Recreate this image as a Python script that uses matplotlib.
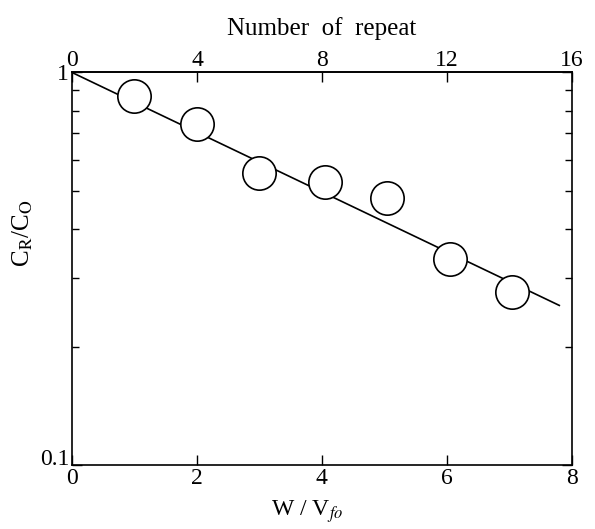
import matplotlib
matplotlib.use('Agg')
import matplotlib.pyplot as plt
from matplotlib.ticker import FixedLocator, NullFormatter
from matplotlib.transforms import ScaledTranslation

# W/Vfo of each measured point and the retained fraction CR/C0
w_vfo = [1.0, 2.0, 3.0, 4.05, 5.05, 6.05, 7.05]
cr_c0 = [0.87, 0.74, 0.555, 0.525, 0.48, 0.335, 0.276]

# fitted straight line on the semi-log plot
line_x = [0.0, 7.8]
line_y = [1.0, 0.255]

x_ticks = [0, 2, 4, 6, 8]
top_ticks = [0, 4, 8, 12, 16]

plt.rcParams['font.family'] = ['Liberation Serif', 'DejaVu Serif']
plt.rcParams['mathtext.fontset'] = 'stix'

fig = plt.figure(figsize=(5.95, 5.29), dpi=100)
ax = fig.add_axes([0.121, 0.121, 0.840, 0.742])

ax.plot(line_x, line_y, color='black', linewidth=1.2, zorder=2)
ax.plot(w_vfo, cr_c0, linestyle='none', marker='o', markersize=24,
        markerfacecolor='white', markeredgecolor='black',
        markeredgewidth=1.2, zorder=3)

ax.set_yscale('log')
ax.set_xlim(0, 8)
ax.set_ylim(0.1, 1)

ax.xaxis.set_major_locator(FixedLocator(x_ticks))
ax.yaxis.set_major_locator(FixedLocator([0.1, 1]))
ax.set_yticklabels(['0.1', '1'])
ax.yaxis.set_minor_locator(FixedLocator([0.2, 0.3, 0.4, 0.5, 0.6, 0.7, 0.8, 0.9]))
ax.yaxis.set_minor_formatter(NullFormatter())

ax.tick_params(axis='both', which='major', direction='in', length=7,
               width=1.0, labelsize=17, pad=2)
ax.tick_params(axis='y', which='both', right=True, direction='in')
ax.tick_params(axis='y', which='minor', length=5, width=1.0)
ax.tick_params(axis='x', which='major', pad=2)

# lift the "0.1" label a little so it clears the bottom "0"
lbl = ax.get_yticklabels()[0]
lbl.set_transform(lbl.get_transform() + ScaledTranslation(0, 6 / 72, fig.dpi_scale_trans))

for s in ax.spines.values():
    s.set_linewidth(1.2)

top = ax.secondary_xaxis('top', functions=(lambda x: x * 2, lambda x: x / 2))
top.xaxis.set_major_locator(FixedLocator(top_ticks))
top.tick_params(direction='in', length=7, width=1.0, labelsize=17, pad=1)
top.spines['top'].set_linewidth(1.2)
top.set_xlabel('Number  of  repeat', fontsize=18, labelpad=11)

ax.set_xlabel(r'W / V$_{fo}$', fontsize=17)
ax.xaxis.set_label_coords(0.47, -0.085)
ax.set_ylabel(r'C$_\mathrm{R}$/C$_\mathrm{O}$', fontsize=18)
ax.yaxis.set_label_coords(-0.075, 0.59)

fig.savefig('out.png', dpi=100)
